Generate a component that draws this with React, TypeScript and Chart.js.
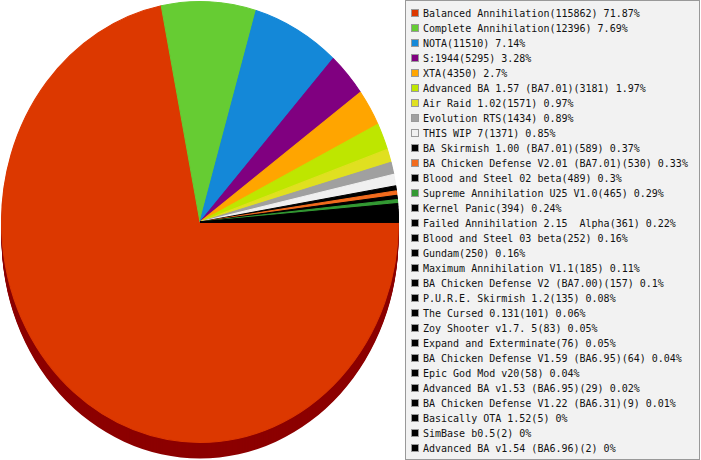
import { useEffect, useRef } from 'react';
import Chart from 'chart.js/auto';

const games = [
  'Balanced Annihilation',
  'Complete Annihilation',
  'NOTA',
  'S:1944',
  'XTA',
  'Advanced BA 1.57 (BA7.01)',
  'Air Raid 1.02',
  'Evolution RTS',
  'THIS WIP 7',
  'BA Skirmish 1.00 (BA7.01)',
  'BA Chicken Defense V2.01 (BA7.01)',
  'Blood and Steel 02 beta',
  'Supreme Annihilation U25 V1.0',
  'Kernel Panic',
  'Failed Annihilation 2.15  Alpha',
  'Blood and Steel 03 beta',
  'Gundam',
  'Maximum Annihilation V1.1',
  'BA Chicken Defense V2 (BA7.00)',
  'P.U.R.E. Skirmish 1.2',
  'The Cursed 0.131',
  'Zoy Shooter v1.7. 5',
  'Expand and Exterminate',
  'BA Chicken Defense V1.59 (BA6.95)',
  'Epic God Mod v20',
  'Advanced BA v1.53 (BA6.95)',
  'BA Chicken Defense V1.22 (BA6.31)',
  'Basically OTA 1.52',
  'SimBase b0.5',
  'Advanced BA v1.54 (BA6.96)',
];

const plays = [
  115862, 12396, 11510, 5295, 4350, 3181, 1571, 1434, 1371, 589, 530, 489, 465,
  394, 361, 252, 250, 185, 157, 135, 101, 83, 76, 64, 58, 29, 9, 5, 2, 2,
];

const sliceColors = [
  '#dc3800', '#66cc33', '#1488d8', '#800080', '#ffa500', '#bee600', '#e0e020',
  '#a0a0a0', '#f0f0f0', '#000000', '#f26b1d', '#000000', '#339933', '#000000',
  '#000000', '#000000', '#000000', '#000000', '#000000', '#000000', '#000000',
  '#000000', '#000000', '#000000', '#000000', '#000000', '#000000', '#000000',
  '#000000', '#000000',
];

const total = plays.reduce((a, b) => a + b, 0);
const percent = (v: number) => Math.round((v / total) * 10000) / 100;

const DEPTH = 16;
const SQUASH = 221 / 199;

// side wall colour: every channel darkened by 80
function shade(hex: string) {
  const n = parseInt(hex.slice(1), 16);
  const r = Math.max(((n >> 16) & 255) - 80, 0);
  const g = Math.max(((n >> 8) & 255) - 80, 0);
  const b = Math.max((n & 255) - 80, 0);
  return `rgb(${r},${g},${b})`;
}

function squash(ctx: CanvasRenderingContext2D, x: number, y: number) {
  ctx.translate(x, y);
  ctx.scale(1, SQUASH);
  ctx.translate(-x, -y);
}

const pie3d = {
  id: 'pie3d',
  beforeDatasetsDraw(chart: any) {
    const { ctx } = chart;
    const arcs = chart.getDatasetMeta(0).data;
    if (!arcs.length) return;
    const { x, y } = arcs[0];
    for (let d = DEPTH; d >= 1; d--) {
      ctx.save();
      ctx.translate(0, d);
      squash(ctx, x, y);
      arcs.forEach((arc: any, i: number) => {
        const { startAngle, endAngle, outerRadius } = arc;
        ctx.beginPath();
        ctx.moveTo(x, y);
        ctx.arc(x, y, outerRadius, startAngle, endAngle);
        ctx.closePath();
        ctx.fillStyle = shade(sliceColors[i]);
        ctx.fill();
      });
      ctx.restore();
    }
    ctx.save();
    squash(ctx, x, y);
  },
  afterDatasetsDraw(chart: any) {
    if (chart.getDatasetMeta(0).data.length) chart.ctx.restore();
  },
};

const PieChart = () => {
  const canvasRef = useRef<HTMLCanvasElement | null>(null);

  useEffect(() => {
    if (!canvasRef.current) return;
    const chart = new Chart(canvasRef.current, {
      type: 'pie',
      data: {
        labels: games,
        datasets: [
          {
            data: plays,
            backgroundColor: sliceColors,
            borderColor: sliceColors,
            borderWidth: 1,
          },
        ],
      },
      options: {
        responsive: false,
        animation: false,
        events: [],
        rotation: 90,
        layout: { padding: { left: 1, right: 3, top: 22, bottom: 38 } },
        plugins: {
          legend: { display: false },
          tooltip: { enabled: false },
        },
      },
      plugins: [pie3d],
    });
    return () => chart.destroy();
  }, []);

  return (
    <canvas
      ref={canvasRef}
      width={402}
      height={460}
      style={{ position: 'absolute', left: 0, top: 0, display: 'block' }}
    />
  );
};

const Legend = () => (
  <div
    style={{
      position: 'absolute',
      left: 405,
      top: 0,
      width: 295,
      height: 460,
      boxSizing: 'border-box',
      background: '#f2f2f2',
      border: '1px solid #999',
      fontFamily: '"DejaVu Sans Mono", monospace',
      fontSize: 10,
      color: '#111',
    }}
  >
    {games.map((name, i) => (
      <div
        key={name}
        style={{
          position: 'absolute',
          left: 0,
          top: 4.5 + i * 15,
          height: 15,
          lineHeight: '15px',
          whiteSpace: 'pre',
        }}
      >
        <span
          style={{
            position: 'absolute',
            left: 5,
            top: 3,
            width: 8,
            height: 8,
            boxSizing: 'border-box',
            background: sliceColors[i],
            border: '1px solid #999',
          }}
        />
        <span style={{ position: 'absolute', left: 17, top: 0 }}>
          {`${name}(${plays[i]}) ${percent(plays[i])}%`}
        </span>
      </div>
    ))}
  </div>
);

export default function App() {
  return (
    <div style={{ position: 'absolute', left: 0, top: 0, width: 701, height: 460 }}>
      <PieChart />
      <Legend />
    </div>
  );
}
